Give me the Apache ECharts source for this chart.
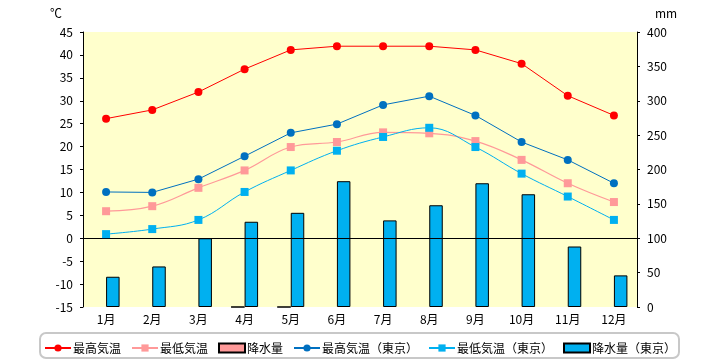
<!DOCTYPE html>
<html><head><meta charset="utf-8">
<script src="https://cdn.jsdelivr.net/npm/echarts@6/dist/echarts.min.js"></script>
<style>html,body{margin:0;padding:0;background:#fff}#c{width:720px;height:360px}</style>
</head><body><div id="c"></div>
<script>
const months = ['1月','2月','3月','4月','5月','6月','7月','8月','9月','10月','11月','12月'];
const maxTemp = [26.1, 28, 31.9, 36.9, 41.1, 41.9, 41.9, 41.9, 41.1, 38.1, 31.1, 26.8];
const minTemp = [5.9, 7, 11, 14.8, 19.9, 21, 23.1, 22.9, 21.2, 17.1, 12, 7.9];
const precip = [null, null, null, 0, 0, null, null, null, null, null, null, null];
const maxTempTokyo = [10.1, 10, 12.9, 17.9, 23, 24.9, 29.1, 31, 26.8, 21, 17.1, 12];
const minTempTokyo = [0.9, 2, 4, 10.1, 14.8, 19.1, 22.1, 24.1, 19.9, 14.1, 9.1, 4];
const precipTokyo = [44, 59, 100, 124, 137, 183, 126, 148, 180, 164, 88, 46];
const names = ['最高気温','最低気温','降水量','最高気温（東京）','最低気温（東京）','降水量（東京）'];
const FONT = '"Noto Sans CJK JP", sans-serif';

const chart = echarts.init(document.getElementById('c'));
chart.setOption({
  animation: false,
  textStyle: {fontFamily: FONT},
  grid: {left: 83, right: 83, top: 32, bottom: 53, show: true, backgroundColor: '#FFFFCC', borderWidth: 0},
  graphic: [
    {type: 'rect', shape: {x: 40, y: 333, width: 639, height: 25, r: 6}, style: {fill: '#fff', stroke: '#C8C8C8', lineWidth: 2}, z: -1},
    {type: 'text', left: 50, top: 7, style: {text: '℃', font: '12px ' + FONT, fill: '#000'}},
    {type: 'text', left: 655, top: 7, style: {text: 'mm', font: '12px ' + FONT, fill: '#000'}}
  ],
  legend: {
    data: [
      {name: names[0]}, {name: names[1]},
      {name: names[2], icon: 'rect'},
      {name: names[3]}, {name: names[4]},
      {name: names[5], icon: 'rect'}
    ],
    left: 'center', top: 337, itemWidth: 26, itemHeight: 9, itemGap: 10,
    textStyle: {fontSize: 12, color: '#000', fontFamily: FONT, padding: [0, 0, 0, -3]}
  },
  xAxis: {
    type: 'category', data: months,
    axisLine: {lineStyle: {color: '#000'}},
    axisTick: {show: false},
    axisLabel: {color: '#000', fontSize: 12, margin: 6}
  },
  yAxis: [
    {type: 'value', min: -15, max: 45, interval: 5,
     axisLine: {show: true, lineStyle: {color: '#000'}},
     axisTick: {show: true, length: 3, lineStyle: {color: '#000'}},
     axisLabel: {color: '#000', fontSize: 12, margin: 10},
     splitLine: {show: false}},
    {type: 'value', min: 0, max: 400, interval: 50,
     axisLine: {show: true, lineStyle: {color: '#000'}},
     axisTick: {show: true, length: 3, lineStyle: {color: '#000'}},
     axisLabel: {color: '#000', fontSize: 12, margin: 10},
     splitLine: {show: false}}
  ],
  series: [
    {name: names[0], type: 'line', data: maxTemp, z: 4, color: '#FF0000',
     symbol: 'circle', symbolSize: 8, lineStyle: {width: 1}},
    {name: names[1], type: 'line', data: minTemp, z: 4, color: '#FF9999', smooth: 0.4,
     symbol: 'rect', symbolSize: 8, lineStyle: {width: 1.2}},
    {name: names[2], type: 'bar', yAxisIndex: 1, data: precip, z: 2, barWidth: 13.5, barGap: '0%',
     itemStyle: {color: '#FF9999', borderColor: '#000', borderWidth: 1}},
    {name: names[3], type: 'line', data: maxTempTokyo, z: 4, color: '#0070C0',
     symbol: 'circle', symbolSize: 8, lineStyle: {width: 1}},
    {name: names[4], type: 'line', data: minTempTokyo, z: 4, color: '#00B0F0', smooth: 0.4,
     symbol: 'rect', symbolSize: 8, lineStyle: {width: 1}},
    {name: names[5], type: 'bar', yAxisIndex: 1, data: precipTokyo, z: 2, barWidth: 13.5, barGap: '0%',
     itemStyle: {color: '#00B0F0', borderColor: '#000', borderWidth: 1},
     markLine: {silent: true, symbol: 'none', z: 3, label: {show: false},
       lineStyle: {color: '#000', type: 'solid', width: 1},
       data: [{yAxis: 100}]}}
  ]
});
</script></body></html>
